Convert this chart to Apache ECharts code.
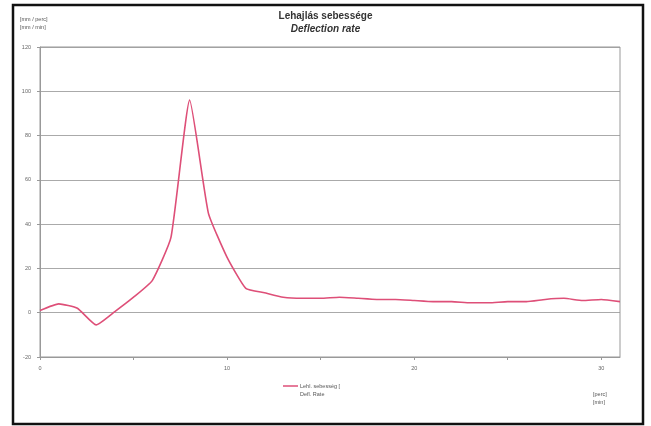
<!DOCTYPE html>
<html><head><meta charset="utf-8">
<script src="https://cdn.jsdelivr.net/npm/echarts@6/dist/echarts.min.js"></script>
<style>html,body{margin:0;padding:0;background:#fff}#c{width:651px;height:426px}</style>
</head><body><div id="c"></div>
<script>
const xValues = [0,1,2,3,4,5,6,7,8,9,10,11,12,13,14,15,16,17,18,19,20,21,22,23,24,25,26,27,28,29,30,31];
const rateValues = [1,4,2,-5.5,0.5,7,14.5,34,96,45,25,11,9,7,6.5,6.5,7,6.5,6,6,5.5,5,5,4.5,4.5,5,5,6,6.5,5.5,6,5];
const xTickLabels = {0:'0',10:'10',20:'20',30:'30'};
const yTicks = {min:-20,max:120,interval:20};
const titleHu = 'Lehajlás sebessége';
const titleEn = 'Deflection rate';
const yUnit = ['[mm / perc]','[mm / min]'];
const xUnit = ['[perc]','[min]'];
const legendName = 'Lehl. sebesség [';
const legendName2 = 'Defl. Rate';

const chart = echarts.init(document.getElementById('c'));
const lineColor = '#de4f78';
chart.setOption({
  animation:false,
  backgroundColor:'#fff',
  graphic:[
    {type:'rect',shape:{x:13,y:5,width:630,height:419},style:{fill:'none',stroke:'#111',lineWidth:2.5},z:100},
    {type:'rect',shape:{x:40,y:47,width:580,height:310},style:{fill:'none',stroke:'#999',lineWidth:1},z:1},
    {type:'text',left:'center',top:11,style:{text:titleHu,font:'bold 10px "Liberation Sans", Arial',fill:'#333'}},
    {type:'text',left:'center',top:24,style:{text:titleEn,font:'italic bold 10px "Liberation Sans", Arial',fill:'#333'}},
    {type:'text',left:20,top:15,style:{text:yUnit.join('\n'),font:'5.5px "Liberation Sans", Arial',fill:'#555',lineHeight:8}},
    {type:'text',left:593,top:390,style:{text:xUnit.join('\n'),font:'5.5px "Liberation Sans", Arial',fill:'#555',lineHeight:8}},
    {type:'line',shape:{x1:283,y1:386,x2:298,y2:386},style:{stroke:lineColor,lineWidth:1.5}},
    {type:'text',left:300,top:383,style:{text:legendName,font:'5.5px "Liberation Sans", Arial',fill:'#555'}},
    {type:'text',left:300,top:391,style:{text:legendName2,font:'5.5px "Liberation Sans", Arial',fill:'#555'}}
  ],
  grid:{left:40,right:31,top:47,bottom:69,containLabel:false},
  xAxis:{type:'value',min:0,max:31,interval:5,
    axisLine:{show:true,onZero:false,lineStyle:{color:'#999',width:1}},
    axisTick:{show:true,length:3,lineStyle:{color:'#999'}},
    axisLabel:{fontSize:5.5,color:'#666',margin:8,formatter:v=>xTickLabels[v]!==undefined?xTickLabels[v]:'',showMaxLabel:false},
    splitLine:{show:false}},
  yAxis:{type:'value',min:yTicks.min,max:yTicks.max,interval:yTicks.interval,
    axisLine:{show:true,lineStyle:{color:'#999'}},
    axisTick:{show:true,length:3,lineStyle:{color:'#999'}},
    axisLabel:{fontSize:5.5,color:'#666',margin:9},
    splitLine:{show:true,lineStyle:{color:'#aaa',width:1}}},
  series:[{type:'line',name:legendName,data:xValues.map((x,i)=>[x,rateValues[i]]),
    showSymbol:false,smooth:0.15,lineStyle:{color:lineColor,width:1.6},itemStyle:{color:lineColor}}]
});
</script></body></html>
